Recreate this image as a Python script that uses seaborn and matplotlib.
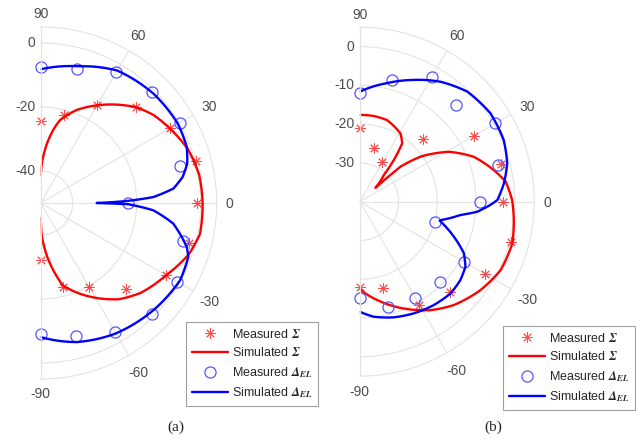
import numpy as np
import seaborn as sns
import matplotlib.pyplot as plt
from matplotlib.lines import Line2D

sns.set_style('white')
plt.rcParams['font.family'] = ['Liberation Sans', 'DejaVu Sans']
plt.rcParams['mathtext.fontset'] = 'stix'

# ---- data (angles in degrees, levels in dB) ----
meas_ang = [-90, -75, -60, -45, -30, -15, 0, 15, 30, 45, 60, 75, 90]

# (a)
a_meas_sum = [-32.3, -22.7, -19.7, -12.2, -4.8, -1.9, -1.25, 0.4, -3.4, -7.7, -14.75, -21.4, -24.5]
a_meas_del = [-9.2, -6.9, -3.3, -1.0, -0.85, -4.1, -22.6, -5.0, 0.3, -0.8, -2.8, -6.7, -7.5]
a_sim_sum_ang = [90, 88, 84, 80, 77, 69, 60, 52, 45, 38, 30, 20, 10, 0,
                 -11, -19, -30, -42, -51, -62, -75, -83, -88, -90]
a_sim_sum = [-41.3, -37, -31.3, -26.5, -23.5, -18.9, -14.75, -11, -7.7, -5.3, -3.4, -1.0, 0.3, 0.6,
             0.7, -1.0, -4.8, -8, -11.3, -16.8, -23.3, -33, -39.6, -45.3]
a_sim_del_ang = [90, 75, 60, 44, 30, 21, 15, 10.4, 6.2, 3.0, 1.3, 0,
                 -0.8, -3.7, -8.8, -16.8, -20, -29, -43.6, -60.4, -75.5, -90]
a_sim_del = [-8.2, -5.75, -2.2, -0.9, -0.5, -1.1, -2.6, -4.9, -8.3, -14.75, -23.1, -32.5,
             -22.6, -14.75, -8.1, -2.3, -0.9, -0.2, -1.4, -3.0, -5.1, -8.1]

# (b)
b_meas_sum = [-17.9, -16.9, -9.2, -7.2, -2.7, 0.4, -3.1, -2.2, -6.0, -17.1, -28.3, -25.7, -20.9]
b_meas_del = [-15.2, -11.8, -11.4, -10.6, -9.0, -19.8, -9.1, -3.1, 0.4, -4.8, -2.9, -7.5, -11.9]
b_sim_sum_ang = [90, 80.7, 71.5, 59.2, 54, 50.8, 48, 41.7, 40.7, 36.6, 29.3, 21.5, 13.3, 7.8, 0.6,
                 -5.6, -15.3, -25.9, -36.2, -47.7, -56.9, -67.6, -78.3, -90]
b_sim_sum = [-17.6, -17.6, -17.8, -19.5, -21.4, -26.1, -30.7, -34.6, -26.1, -20.5, -13.7, -8.4, -4.5, -2.0, -0.7,
             -0.1, 0.8, 0.4, -1.4, -3.95, -6.6, -10.2, -13.7, -17.4]
b_sim_del_ang = [90, 77, 66.7, 56.1, 45.7, 34.1, 23.2, 14.6, 7.3, 0.7, -1.4, -4.9, -7.5, -12.8, -13.4,
                 -20.4, -26.4, -31.6, -37.9, -45.3, -54.4, -64.2, -73.6, -83.1, -90]
b_sim_del = [-11.6, -8.6, -5.8, -2.7, -0.3, 0.7, 0.4, -0.7, -2.5, -4.5, -6.3, -9.6, -13.8, -18.6, -18.8,
             -14.1, -10.0, -8.0, -7.1, -6.7, -7.2, -8.0, -8.9, -10.1, -11.6]

theta_ticks = [-90, -60, -30, 0, 30, 60, 90]

lbl_ms = r'Measured $\mathbfit{\Sigma}$'
lbl_ss = r'Simulated $\mathbfit{\Sigma}$'
lbl_md = r'Measured $\mathbfit{\Delta}_{\mathbfit{EL}}$'
lbl_sd = r'Simulated $\mathbfit{\Delta}_{\mathbfit{EL}}$'

RED = '#ff0000'
BLUE = '#0000ff'
GRID = '#e3e3e3'
TXT = '#4d4d4d'

W, H = 641, 442
fig = plt.figure(figsize=(W / 100, H / 100), dpi=100)

star = dict(ls='none', marker=(8, 2, 0), ms=7.5, mew=0.7, color=RED, alpha=0.7)
ring = dict(ls='none', marker='o', ms=8, mfc='none', mec='#5555ff', mew=0.9)


def draw_panel(cx, cy, R, rlim, rticks, ms, md, ss_ang, ss, sd_ang, sd, leg_xy, tag, tag_x):
    # polar axes get a square box; the half disc sits centred in it
    rect = [(cx - R / 2) / W, (H - cy - R) / H, 2 * R / W, 2 * R / H]
    ax = fig.add_axes(rect, projection='polar')
    ax.set_thetamin(-90)
    ax.set_thetamax(90)
    ax.set_ylim(*rlim)
    ax.set_rticks(rticks)
    ax.set_yticklabels([])
    ax.set_thetagrids(theta_ticks, [''] * len(theta_ticks))
    ax.grid(True, color=GRID, lw=0.8)
    for sp in ax.spines.values():
        sp.set_color(GRID)
        sp.set_linewidth(0.8)

    # angle labels just outside the rim
    for t in theta_ticks:
        a = np.deg2rad(t)
        d = 13 + 6 * abs(np.sin(2 * a)) + 1 * abs(np.sin(a))
        ax.annotate(str(t), xy=(a, rlim[1]),
                    xytext=(0.72 * d * np.cos(a), 0.72 * (d * np.sin(a) - 1.5)),
                    textcoords='offset points', ha='center', va='center',
                    fontsize=10, color=TXT, annotation_clip=False)
    # level labels left of the 90 deg line
    for r in rticks:
        ax.annotate(str(r), xy=(np.pi / 2, r), xytext=(-4, 0), textcoords='offset points',
                    ha='right', va='center', fontsize=10, color=TXT, annotation_clip=False)

    th = np.deg2rad(meas_ang)
    ax.plot(th, ms, clip_on=False, **star)
    sns.lineplot(x=np.deg2rad(ss_ang), y=ss, ax=ax, sort=False, estimator=None,
                 color=RED, lw=1.7, legend=False)
    ax.plot(th, md, clip_on=False, **ring)
    sns.lineplot(x=np.deg2rad(sd_ang), y=sd, ax=ax, sort=False, estimator=None,
                 color=BLUE, lw=1.7, legend=False)
    # draw the curves as arcs between the read points, not straight chords
    for ln in ax.lines:
        ln.get_path()._interpolation_steps = 24
    ax.set_xlabel('')
    ax.set_ylabel('')
    ax.set_ylim(*rlim)

    handles = [
        Line2D([], [], **star),
        Line2D([], [], color=RED, lw=1.7),
        Line2D([], [], **ring),
        Line2D([], [], color=BLUE, lw=1.7),
    ]
    leg = fig.legend(handles, [lbl_ms, lbl_ss, lbl_md, lbl_sd], loc='upper left',
                     bbox_to_anchor=leg_xy, bbox_transform=fig.transFigure,
                     fontsize=9, frameon=True, fancybox=False, edgecolor='#888888',
                     handlelength=2.9, handletextpad=0.3, labelspacing=0.45,
                     borderpad=0.45, borderaxespad=0)
    leg.get_frame().set_linewidth(0.8)
    for t in leg.get_texts():
        t.set_color('#262626')

    fig.text(tag_x, 1 - 427 / H, tag, ha='center', va='center',
             fontsize=11, family='Liberation Serif')
    return ax


draw_panel(40.7, 203, 176, (-50, 5), [-40, -20, 0],
           a_meas_sum, a_meas_del, a_sim_sum_ang, a_sim_sum, a_sim_del_ang, a_sim_del,
           (186 / W, 1 - 322 / H), '(a)', 176 / W)
draw_panel(359.8, 201.7, 174.4, (-40, 5), [-30, -20, -10, 0],
           b_meas_sum, b_meas_del, b_sim_sum_ang, b_sim_sum, b_sim_del_ang, b_sim_del,
           (503 / W, 1 - 326 / H), '(b)', 493 / W)

fig.savefig('out.png', dpi=100)
